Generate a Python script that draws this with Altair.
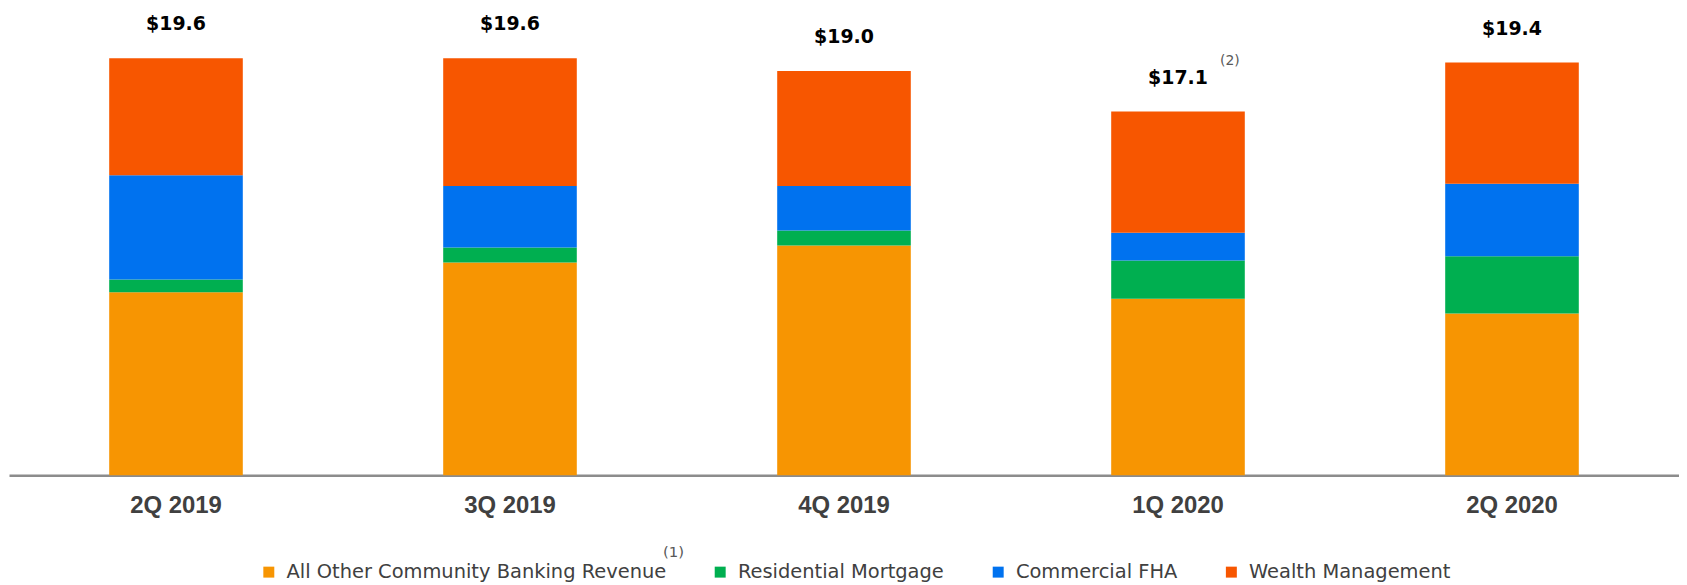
import altair as alt
import pandas as pd

quarters = ["2Q 2019", "3Q 2019", "4Q 2019", "1Q 2020", "2Q 2020"]
series = ["All Other Community Banking Revenue", "Residential Mortgage",
          "Commercial FHA", "Wealth Management"]
all_other = [8.6, 10.0, 10.8, 8.3, 7.6]
residential = [0.6, 0.7, 0.7, 1.8, 2.7]
commercial_fha = [4.9, 2.9, 2.1, 1.3, 3.4]
wealth = [5.5, 6.0, 5.4, 5.7, 5.7]
totals = [19.6, 19.6, 19.0, 17.1, 19.4]
total_labels = ["$19.6", "$19.6", "$19.0", "$17.1", "$19.4"]
notes = ["", "", "", "(2)", ""]
colors = ["#F79502", "#00AF50", "#0072EF", "#F75600"]

rows = []
for si, (name, vals) in enumerate(zip(series, [all_other, residential, commercial_fha, wealth])):
    for q, v in zip(quarters, vals):
        rows.append({"quarter": q, "series": name, "value": v, "idx": si})
df = pd.DataFrame(rows)
df_tot = pd.DataFrame({"quarter": quarters, "total": totals,
                       "label": total_labels, "note": notes})

x_enc = alt.X("quarter:N", sort=quarters,
              scale=alt.Scale(paddingInner=0.6, paddingOuter=0.3),
              axis=alt.Axis(title=None, ticks=False, labelAngle=0,
                            labelFont="Liberation Sans", labelFontWeight="bold",
                            labelFontSize=24, labelColor="#404040", labelPadding=18,
                            domainColor="#8C8C8C", domainWidth=2.5))
y_scale = alt.Scale(domain=[0, 21.91], nice=False, zero=True)

bars = alt.Chart(df).mark_bar().encode(
    x=x_enc,
    y=alt.Y("value:Q", stack="zero", scale=y_scale, axis=None),
    color=alt.Color("series:N", sort=series,
                    scale=alt.Scale(domain=series, range=colors),
                    legend=alt.Legend(title=None, orient="none", legendX=251, legendY=555,
                                      direction="horizontal", columns=4,
                                      symbolType="square", symbolSize=121,
                                      symbolStrokeWidth=0, symbolOpacity=1,
                                      labelFont="DejaVu Sans", labelFontSize=19.5,
                                      labelColor="#404040", labelOffset=8,
                                      columnPadding=44, labelLimit=600, padding=0)),
    order=alt.Order("idx:Q"),
)

tot_text = alt.Chart(df_tot).mark_text(
    font="DejaVu Sans", fontWeight="bold", fontSize=19, color="#000000",
    baseline="alphabetic", dy=-28,
).encode(
    x=alt.X("quarter:N", sort=quarters),
    y=alt.Y("total:Q", scale=y_scale),
    text="label:N",
)

note_text = alt.Chart(df_tot).mark_text(
    font="DejaVu Sans", fontSize=14, color="#595959",
    baseline="middle", dx=52, dy=-51,
).encode(
    x=alt.X("quarter:N", sort=quarters),
    y=alt.Y("total:Q", scale=y_scale),
    text="note:N",
)

legend_note = alt.Chart(pd.DataFrame({"t": ["(1)"]})).mark_text(
    font="DejaVu Sans", fontSize=15, color="#595959", baseline="middle",
).encode(x=alt.value(667), y=alt.value(545), text="t:N")

chart = alt.layer(bars, tot_text, note_text, legend_note).properties(
    width=1676, height=468,
    autosize=alt.AutoSizeParams(type="none"),
    padding={"left": 1, "top": 0, "right": 0, "bottom": 108},
).configure_view(stroke=None)

chart.save("out.html", embed_options={"renderer": "svg", "actions": False})
